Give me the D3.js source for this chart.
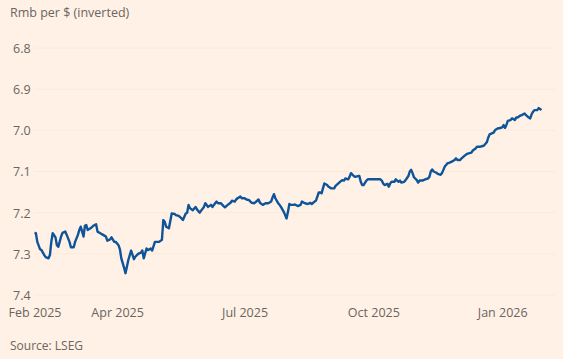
<!DOCTYPE html>
<html><head><meta charset="utf-8">
<script src="https://cdn.jsdelivr.net/npm/d3@7"></script>
<style>
html,body{margin:0;padding:0;background:#fff1e5;}
svg{display:block;}
text{font-family:"Open Sans","Noto Sans",sans-serif;fill:#66605c;}
</style></head><body>
<div id="chart"></div>
<script>
const title = "Rmb per $ (inverted)";
const source = "Source: LSEG";
const yTicks = [6.8, 6.9, 7.0, 7.1, 7.2, 7.3, 7.4];
const xTickDates = ["2025-02-01","2025-04-01","2025-07-01","2025-10-01","2026-01-01"];
const xTickLabels = ["Feb 2025","Apr 2025","Jul 2025","Oct 2025","Jan 2026"];
const dates = [
"2025-02-01","2025-02-02","2025-02-03","2025-02-05","2025-02-06","2025-02-08","2025-02-09","2025-02-11","2025-02-12","2025-02-13",
"2025-02-14","2025-02-16","2025-02-17","2025-02-18","2025-02-20","2025-02-21","2025-02-23","2025-02-24","2025-02-26","2025-02-27",
"2025-03-01","2025-03-02","2025-03-04","2025-03-05","2025-03-06","2025-03-08","2025-03-09","2025-03-10","2025-03-11","2025-03-13",
"2025-03-15","2025-03-17","2025-03-18","2025-03-20","2025-03-22","2025-03-24","2025-03-25","2025-03-27","2025-03-28","2025-03-30",
"2025-03-31","2025-04-02","2025-04-03","2025-04-04","2025-04-06","2025-04-07","2025-04-09","2025-04-11","2025-04-13","2025-04-14",
"2025-04-16","2025-04-18","2025-04-19","2025-04-20","2025-04-22","2025-04-23","2025-04-25","2025-04-26","2025-04-28","2025-04-29",
"2025-05-01","2025-05-03","2025-05-04","2025-05-05","2025-05-06","2025-05-08","2025-05-10","2025-05-12","2025-05-13","2025-05-15",
"2025-05-17","2025-05-18","2025-05-20","2025-05-21","2025-05-22","2025-05-23","2025-05-25","2025-05-27","2025-05-28","2025-05-30",
"2025-05-31","2025-06-02","2025-06-03","2025-06-05","2025-06-07","2025-06-08","2025-06-10","2025-06-11","2025-06-12","2025-06-14",
"2025-06-16","2025-06-17","2025-06-19","2025-06-21","2025-06-22","2025-06-24","2025-06-25","2025-06-26","2025-06-28","2025-06-29",
"2025-07-01","2025-07-03","2025-07-04","2025-07-06","2025-07-08","2025-07-10","2025-07-11","2025-07-12","2025-07-14","2025-07-16",
"2025-07-18","2025-07-20","2025-07-21","2025-07-22","2025-07-23","2025-07-25","2025-07-26","2025-07-27","2025-07-29","2025-07-30",
"2025-07-31","2025-08-01","2025-08-02","2025-08-03","2025-08-05","2025-08-06","2025-08-08","2025-08-10","2025-08-11","2025-08-13",
"2025-08-15","2025-08-17","2025-08-18","2025-08-20","2025-08-21","2025-08-22","2025-08-23","2025-08-24","2025-08-25","2025-08-26",
"2025-08-27","2025-08-29","2025-08-30","2025-09-01","2025-09-03","2025-09-04","2025-09-06","2025-09-08","2025-09-09","2025-09-10",
"2025-09-11","2025-09-13","2025-09-14","2025-09-15","2025-09-17","2025-09-18","2025-09-20","2025-09-21","2025-09-22","2025-09-23",
"2025-09-24","2025-09-26","2025-09-27","2025-09-29","2025-10-01","2025-10-03","2025-10-06","2025-10-07","2025-10-08","2025-10-09",
"2025-10-11","2025-10-12","2025-10-13","2025-10-14","2025-10-16","2025-10-17","2025-10-19","2025-10-20","2025-10-21","2025-10-23",
"2025-10-24","2025-10-26","2025-10-27","2025-10-28","2025-10-29","2025-10-30","2025-11-01","2025-11-02","2025-11-03","2025-11-05",
"2025-11-07","2025-11-09","2025-11-10","2025-11-11","2025-11-12","2025-11-13","2025-11-15","2025-11-16","2025-11-18","2025-11-19",
"2025-11-20","2025-11-21","2025-11-23","2025-11-24","2025-11-26","2025-11-28","2025-11-29","2025-11-30","2025-12-02","2025-12-03",
"2025-12-05","2025-12-07","2025-12-08","2025-12-10","2025-12-11","2025-12-13","2025-12-14","2025-12-16","2025-12-18","2025-12-19",
"2025-12-21","2025-12-22","2025-12-23","2025-12-25","2025-12-26","2025-12-27","2025-12-29","2025-12-30","2026-01-01","2026-01-02",
"2026-01-03","2026-01-04","2026-01-05","2026-01-07","2026-01-08","2026-01-09","2026-01-10","2026-01-11","2026-01-12","2026-01-14",
"2026-01-15","2026-01-16","2026-01-17","2026-01-18","2026-01-20","2026-01-21","2026-01-22","2026-01-23","2026-01-24","2026-01-26",
"2026-01-27","2026-01-28","2026-01-29"
];
const rates = [
7.249,7.250,7.271,7.289,7.291,7.303,7.308,7.311,7.303,7.271,
7.250,7.260,7.279,7.283,7.258,7.249,7.246,7.254,7.271,7.284,
7.284,7.271,7.254,7.242,7.234,7.258,7.232,7.230,7.242,7.238,
7.232,7.228,7.246,7.250,7.254,7.258,7.268,7.265,7.260,7.271,
7.271,7.279,7.289,7.311,7.334,7.347,7.315,7.292,7.313,7.307,
7.300,7.297,7.292,7.311,7.287,7.291,7.287,7.292,7.271,7.271,
7.271,7.266,7.218,7.222,7.234,7.238,7.202,7.203,7.206,7.208,
7.214,7.218,7.202,7.200,7.181,7.189,7.194,7.186,7.192,7.200,
7.195,7.186,7.177,7.186,7.181,7.186,7.177,7.173,7.177,7.177,
7.184,7.187,7.181,7.176,7.171,7.173,7.168,7.165,7.161,7.165,
7.165,7.169,7.169,7.176,7.177,7.171,7.168,7.176,7.181,7.177,
7.177,7.173,7.163,7.155,7.165,7.177,7.181,7.186,7.198,7.206,
7.214,7.198,7.179,7.181,7.181,7.180,7.184,7.181,7.173,7.177,
7.179,7.176,7.179,7.173,7.171,7.161,7.151,7.151,7.153,7.141,
7.129,7.133,7.137,7.141,7.141,7.135,7.129,7.123,7.121,7.122,
7.117,7.119,7.113,7.104,7.111,7.113,7.111,7.111,7.125,7.133,
7.133,7.122,7.119,7.119,7.119,7.119,7.119,7.122,7.129,7.133,
7.130,7.137,7.129,7.125,7.125,7.119,7.125,7.122,7.127,7.125,
7.121,7.111,7.100,7.096,7.104,7.114,7.121,7.127,7.122,7.122,
7.119,7.117,7.113,7.100,7.095,7.100,7.103,7.106,7.108,7.104,
7.096,7.088,7.080,7.079,7.076,7.072,7.068,7.072,7.072,7.068,
7.062,7.057,7.056,7.054,7.049,7.044,7.040,7.040,7.038,7.037,
7.029,7.018,7.010,7.007,7.005,6.999,6.995,6.995,6.993,6.987,
6.994,6.987,6.977,6.975,6.971,6.972,6.975,6.969,6.969,6.964,
6.963,6.961,6.959,6.963,6.969,6.971,6.961,6.955,6.951,6.951,
6.946,6.948,6.951
];

const W = 563, H = 359;
const parse = d3.utcParse("%Y-%m-%d");
const data = dates.map((d, i) => ({date: parse(d), value: rates[i]}));

const svg = d3.select("#chart").append("svg").attr("width", W).attr("height", H);
svg.append("rect").attr("width", W).attr("height", H).attr("fill", "#fff1e5");

const x = d3.scaleUtc().domain([parse("2025-02-01"), parse("2026-01-01")]).range([34.5, 502.2]);
const y = d3.scaleLinear().domain([6.8, 7.4]).range([48, 295]);

// very faint gridlines
svg.append("g").selectAll("line").data(yTicks).join("line")
  .attr("x1", 34).attr("x2", 555)
  .attr("y1", d => y(d)).attr("y2", d => y(d))
  .attr("stroke", "#fbeadc").attr("stroke-width", 1);

// y axis labels
const yAxis = d3.axisLeft(y).tickValues(yTicks).tickFormat(d3.format(".1f")).tickSize(0);
const gy = svg.append("g").attr("transform", "translate(13,0)").call(yAxis);
gy.select(".domain").remove();
gy.selectAll("text").attr("text-anchor", "start").attr("x", 0).attr("dy", "0.35em")
  .style("font-size", "12.5px").style("fill", "#6b6560");

// x axis labels
const xAxis = d3.axisBottom(x).tickValues(xTickDates.map(parse))
  .tickFormat((d, i) => xTickLabels[i]).tickSize(0);
const gx = svg.append("g").attr("transform", "translate(0,307)").call(xAxis);
gx.select(".domain").remove();
gx.selectAll("text").attr("dy", "0.35em").attr("y", 6)
  .style("font-size", "12.5px").style("fill", "#6b6560");

// line
svg.append("path").datum(data)
  .attr("fill", "none").attr("stroke", "#0f5499").attr("stroke-width", 2.4)
  .attr("stroke-linejoin", "round")
  .attr("d", d3.line().x(d => x(d.date)).y(d => y(d.value)));

svg.append("text").attr("x", 10).attr("y", 17).text(title)
  .style("font-size", "12.5px").style("fill", "#6b6560");
svg.append("text").attr("x", 10).attr("y", 350).text(source)
  .style("font-size", "12px").style("fill", "#6b6560");
</script>
</body></html>
